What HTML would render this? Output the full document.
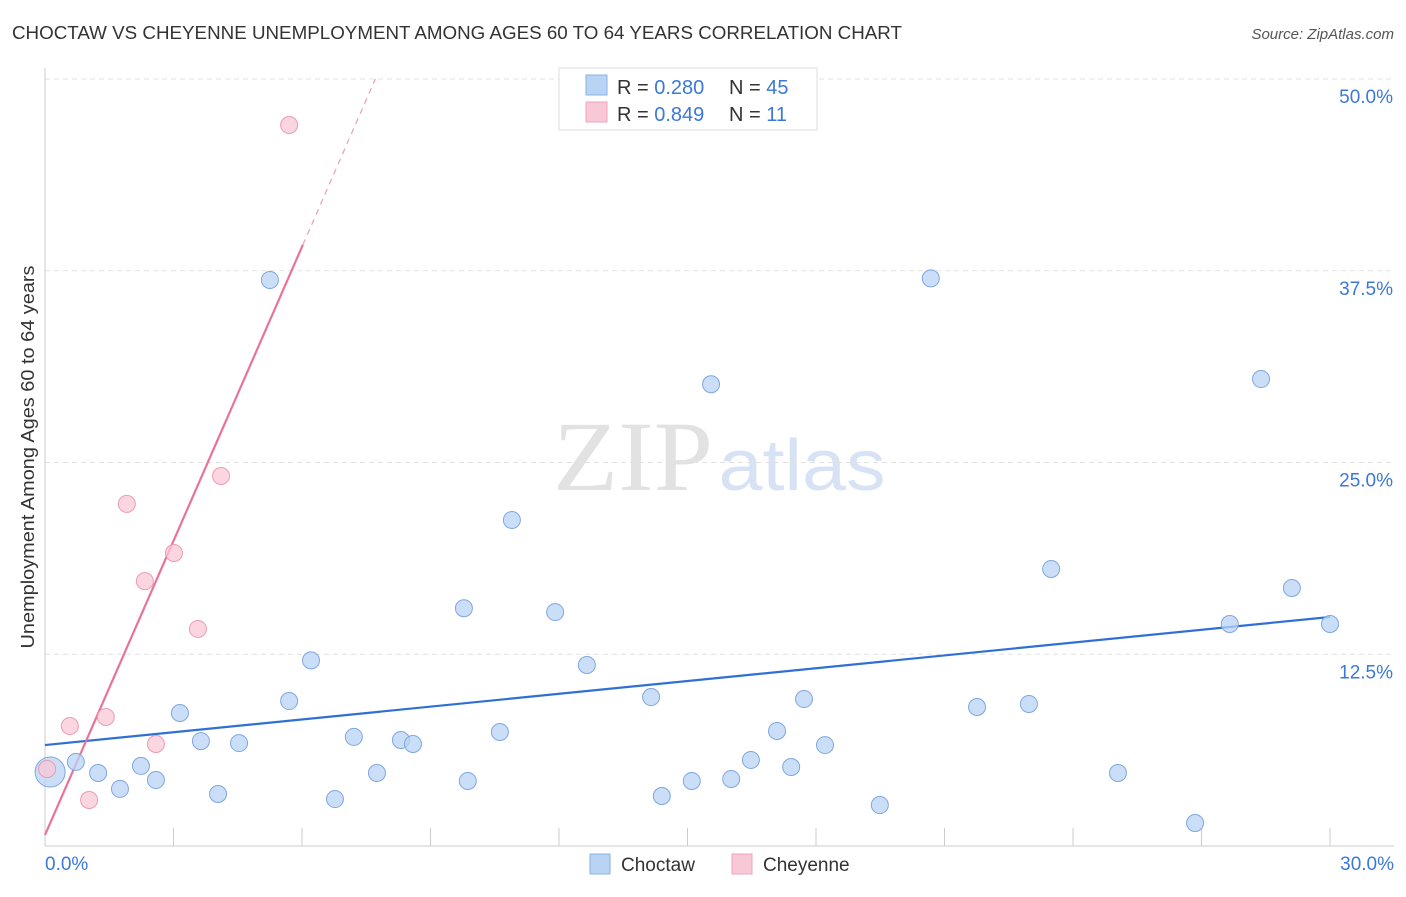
<!DOCTYPE html>
<html><head><meta charset="utf-8"><style>
body{margin:0;background:#fff;font-family:"Liberation Sans",sans-serif;}
svg text{font-family:"Liberation Sans",sans-serif;}
</style></head><body>
<svg id="chart" width="1406" height="892" xmlns="http://www.w3.org/2000/svg">
<text x="12" y="39" font-size="18" fill="#333" textLength="890" lengthAdjust="spacingAndGlyphs">CHOCTAW VS CHEYENNE UNEMPLOYMENT AMONG AGES 60 TO 64 YEARS CORRELATION CHART</text>
<text x="1394" y="39" font-size="15" fill="#555" text-anchor="end" font-style="italic">Source: ZipAtlas.com</text>
<g>
<text x="633" y="490" font-size="100" fill="#e2e2e2" style="font-family:'Liberation Serif',serif" text-anchor="middle" textLength="160" lengthAdjust="spacingAndGlyphs">ZIP</text>
<text x="802" y="490" font-size="72" fill="#d7e3f5" text-anchor="middle" textLength="167" lengthAdjust="spacingAndGlyphs">atlas</text>
</g>
<g id="grid"></g>
<g id="axes"></g>
<g id="lines"></g>
<g id="points"></g>
<g>
<rect x="559" y="68" width="258" height="62" fill="#fff" stroke="#ddd"/>
<rect x="586" y="75" width="21" height="20" fill="#b9d3f5" stroke="#8ab1e6"/>
<rect x="586" y="102" width="21" height="20" fill="#f9c8d6" stroke="#eea5bb"/>
<text x="617" y="94" font-size="20" fill="#333">R = <tspan fill="#3b78d8">0.280</tspan></text>
<text x="729" y="94" font-size="20" fill="#333">N = <tspan fill="#3b78d8">45</tspan></text>
<text x="617" y="121" font-size="20" fill="#333">R = <tspan fill="#3b78d8">0.849</tspan></text>
<text x="729" y="121" font-size="20" fill="#333">N = <tspan fill="#3b78d8"> 11</tspan></text>
</g>
<g>
<rect x="590" y="854" width="20" height="20" fill="#b9d3f5" stroke="#8ab1e6"/>
<text x="621" y="871" font-size="19" fill="#333">Choctaw</text>
<rect x="732" y="854" width="20" height="20" fill="#f9c8d6" stroke="#eea5bb"/>
<text x="763" y="871" font-size="19" fill="#333">Cheyenne</text>
</g>
<text transform="translate(34,457) rotate(-90)" font-size="18.5" fill="#333" text-anchor="middle" textLength="383" lengthAdjust="spacingAndGlyphs">Unemployment Among Ages 60 to 64 years</text>
</svg>
<script>
const choctawX=[0.12,0.72,1.24,1.75,2.24,2.59,3.15,3.64,4.04,4.53,5.25,5.70,6.21,6.77,7.21,7.75,8.31,8.59,9.78,9.87,10.62,10.90,11.91,12.65,14.15,14.40,15.10,15.55,16.02,16.48,17.09,17.42,17.72,18.21,19.49,20.68,21.76,22.97,23.49,25.05,26.85,27.66,28.39,29.11,30.0];
const choctawY=[4.82,5.48,4.76,3.72,5.22,4.30,8.67,6.84,3.39,6.71,36.9,9.45,12.1,3.06,7.11,4.76,6.91,6.65,15.5,4.24,7.43,21.25,15.25,11.8,9.71,3.26,4.24,30.1,4.37,5.61,7.50,5.15,9.58,6.58,2.67,37.0,9.06,9.26,18.06,4.76,1.50,14.47,30.44,16.82,14.47];
const cheyenneX=[0.05,0.58,1.03,1.42,1.91,2.33,2.59,3.01,3.57,4.11,5.70];
const cheyenneY=[5.02,7.82,3.0,8.41,22.3,17.27,6.65,19.1,14.15,24.12,47.0];
const yTicks=[12.5,25.0,37.5,50.0];
const yTickLabels=["12.5%","25.0%","37.5%","50.0%"];
const xTicks=[0,3,6,9,12,15,18,21,24,27,30];
const xLabels=["0.0%","30.0%"];
const choctawTrend=[6.58,14.93];
const cheyenneTrend=[0.72,6.39];
const NS="http://www.w3.org/2000/svg";
const sx=v=>45+v/30*1285, sy=v=>846-v/50*767;
function mk(parent,tag,attrs){const e=document.createElementNS(NS,tag);for(const k in attrs)e.setAttribute(k,attrs[k]);document.getElementById(parent).appendChild(e);return e;}
yTicks.forEach((t,i)=>{
 const g=mk('grid','line',{x1:45,x2:1394,y1:sy(t),y2:sy(t),stroke:'#e2e2e2','stroke-dasharray':'5,4'});
 
 
 const l=mk('grid','text',{x:1393,y:sy(t)+24,'font-size':19,fill:'#3b78d8','text-anchor':'end'});
 l.textContent=yTickLabels[i];
 
 
});
const ax=mk('axes','line',{x1:45,x2:45,y1:68,y2:846,stroke:'#ccc'});


const bx=mk('axes','line',{x1:45,x2:1394,y1:846,y2:846,stroke:'#ccc'});


xTicks.forEach(t=>{
 const e=mk('axes','line',{x1:sx(t),x2:sx(t),y1:828,y2:846,stroke:'#ccc'});
 
 
});
const xl0=mk('axes','text',{x:45,y:870,'font-size':19,fill:'#3b78d8'});xl0.textContent=xLabels[0];


const xl1=mk('axes','text',{x:1394,y:870,'font-size':19,fill:'#3b78d8','text-anchor':'end'});xl1.textContent=xLabels[1];


const bl=mk('lines','line',{x1:sx(0),y1:sy(choctawTrend[0]),x2:sx(30),y2:sy(choctawTrend[1]),stroke:'#2f6fd6','stroke-width':2.2});


const xs=6.02, xe=(50-cheyenneTrend[0])/cheyenneTrend[1];
const pl=mk('lines','line',{x1:sx(0),y1:sy(cheyenneTrend[0]),x2:sx(xs),y2:sy(cheyenneTrend[0]+cheyenneTrend[1]*xs),stroke:'#e8739a','stroke-width':2.2});


const pd=mk('lines','line',{x1:sx(xs),y1:sy(cheyenneTrend[0]+cheyenneTrend[1]*xs),x2:sx(xe),y2:sy(50),stroke:'#e8a0b8','stroke-width':1.2,'stroke-dasharray':'6,5'});


choctawX.forEach((x,i)=>{
 const c=mk('points','circle',{cx:sx(x),cy:sy(choctawY[i]),r:i===0?15:8.5,fill:'#b9d3f5','fill-opacity':0.75,stroke:'#7ea7e0','stroke-width':1});
 
 
});
cheyenneX.forEach((x,i)=>{
 const c=mk('points','circle',{cx:sx(x),cy:sy(cheyenneY[i]),r:8.5,fill:'#f9c8d6','fill-opacity':0.75,stroke:'#eb9bb4','stroke-width':1});
 
 
});
</script>
</body></html>
